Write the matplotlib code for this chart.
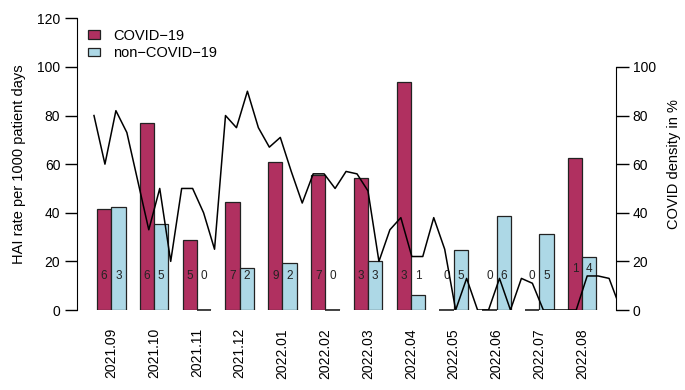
import numpy as np
from matplotlib import pyplot as plt
from matplotlib.patches import Patch

plt.rcParams['font.family'] = ['Liberation Sans', 'DejaVu Sans']

# monthly HAI rates per 1000 patient days
months = ["2021.09", "2021.10", "2021.11", "2021.12", "2022.01", "2022.02",
          "2022.03", "2022.04", "2022.05", "2022.06", "2022.07", "2022.08"]
covid_rate = [41.5, 77.0, 29.0, 44.3, 60.8, 55.5, 54.5, 93.8, 0, 0, 0, 62.5]
noncovid_rate = [42.2, 35.5, 0, 17.3, 19.4, 0, 20.3, 6.0, 24.8, 38.6, 31.3, 22.0]
covid_n = [6, 6, 5, 7, 9, 7, 3, 3, 0, 0, 0, 1]
noncovid_n = [3, 5, 0, 2, 2, 0, 3, 1, 5, 6, 5, 4]

# weekly COVID density in %
density = [80, 60, 82, 73, 53, 33, 50, 20, 50, 50, 40, 25,
           80, 75, 90, 75, 67, 71, 57, 44, 56, 56, 50, 57,
           56, 49, 20, 33, 38, 22, 22, 38, 25, 0, 13, 0,
           0, 13, 0, 13, 11, 0, 0, 0, 0, 14, 14, 13, 1]

maroon = "#B03060"
lightblue = "#ADD8E6"
edge = "#222222"

fig = plt.figure(figsize=(6.85, 3.9), dpi=100)
ax = fig.add_axes([77/685, 1-310/390, (616-77)/685, (310-18.3)/390])

n = len(months)
grp = np.arange(n)*3
ax.bar(grp+1, covid_rate, width=1, align='edge', color=maroon, edgecolor=edge, linewidth=0.9)
ax.bar(grp+2, noncovid_rate, width=1, align='edge', color=lightblue, edgecolor=edge, linewidth=0.9)
# zero-height bars show up as a flat line in the original
for i in range(n):
    if covid_rate[i] == 0:
        ax.hlines(0, grp[i]+1, grp[i]+2, color=edge, linewidth=1.2, clip_on=False)
    if noncovid_rate[i] == 0:
        ax.hlines(0, grp[i]+2, grp[i]+3, color=edge, linewidth=1.2, clip_on=False)

label_y = np.full(n, 14.0)
label_y[-1] = 17.0
for i in range(n):
    ax.text(grp[i]+1.5, label_y[i], str(covid_n[i]), ha='center', va='center', fontsize=8.5, color=edge)
    ax.text(grp[i]+2.5, label_y[i], str(noncovid_n[i]), ha='center', va='center', fontsize=8.5, color=edge)

ax.set_xlim(-0.40, 37.37)
ax.set_ylim(0, 120)
ax.set_yticks(np.arange(0, 121, 20))
ax.set_xticks(grp+2)
ax.set_xticklabels(months, rotation=90, fontsize=10)
ax.tick_params(axis='x', length=0, pad=13)
ax.tick_params(axis='y', length=9, width=1, labelsize=10, pad=3)
for s in ['top', 'right', 'bottom']:
    ax.spines[s].set_visible(False)
ax.spines['left'].set_bounds(0, 120)
ax.set_ylabel("HAI rate per 1000 patient days", fontsize=10.5, labelpad=8)

ax2 = ax.twinx()
wx = 0.79 + 0.768*np.arange(len(density))
ax2.plot(wx, density, color="black", linewidth=1.1)
ax2.set_ylim(0, 120)
ax2.set_yticks(np.arange(0, 101, 20))
ax2.tick_params(axis='y', length=9, width=1, labelsize=10, pad=3)
for s in ['top', 'left', 'bottom']:
    ax2.spines[s].set_visible(False)
ax2.spines['right'].set_bounds(0, 100)
ax2.set_ylabel("COVID density in %", fontsize=10.5, labelpad=8)

handles = [Patch(facecolor=maroon, edgecolor=edge, linewidth=0.9),
           Patch(facecolor=lightblue, edgecolor=edge, linewidth=0.9)]
fig.legend(handles, ["COVID\u221219", "non\u2212COVID\u221219"], loc='upper left',
           bbox_to_anchor=(88/685, 1-29/390), frameon=False, fontsize=10.5,
           handlelength=0.85, handleheight=0.55, handletextpad=0.9,
           labelspacing=0.22, borderpad=0, borderaxespad=0)

plt.savefig("out.png", dpi=100)
